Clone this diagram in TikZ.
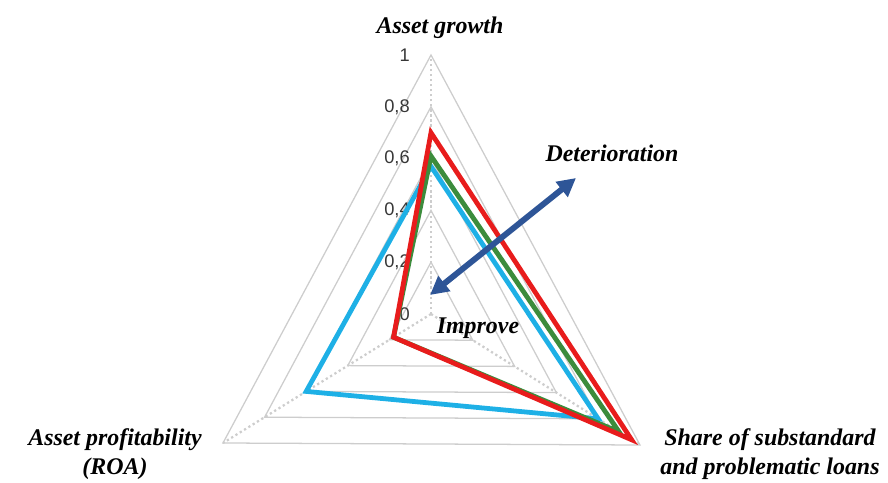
\documentclass[tikz,border=0pt]{standalone}
\usepackage{fontspec}
\setmainfont{Liberation Serif}
\setsansfont{Liberation Sans}
\usetikzlibrary{calc,arrows.meta}

\definecolor{gridgray}{RGB}{205,205,205}
\definecolor{tickgray}{RGB}{55,55,55}
\definecolor{seriesblue}{RGB}{30,176,230}
\definecolor{seriesgreen}{RGB}{60,140,60}
\definecolor{seriesred}{RGB}{232,28,28}
\definecolor{trendblue}{RGB}{46,85,151}

\tikzset{
    axislabel/.style={font=\fontsize{17}{21}\selectfont\bfseries\itshape, align=center, inner sep=0pt},
    ticklabel/.style={font=\sffamily\fontsize{13}{15}\selectfont, text=tickgray, anchor=east, inner sep=0pt},
    ring/.style={draw=gridgray, line width=0.9pt},
    spoke/.style={draw=gridgray, line width=1.6pt, dotted},
    series/.style={line width=3.4pt, line join=miter},
}

\begin{document}
\begin{tikzpicture}[x=0.025cm, y=0.025cm]
        \useasboundingbox (-431,-168) rectangle (457,314);

        \coordinate (O) at (0,0);
        \coordinate (top) at (0,259);
        \coordinate (left) at (-208,-129);
        \coordinate (right) at (209,-131);

        % grid
        \foreach \r in {0.2,0.4,0.6,0.8,1} {
            \draw[ring] ($(O)!\r!(top)$) -- ($(O)!\r!(left)$) -- ($(O)!\r!(right)$) -- cycle;
        }
        \foreach \v in {top,left,right} {
            \draw[spoke] (O) -- (\v);
        }

        \foreach \r/\t [count=\i] in {0/0, 0.2/{0,2}, 0.4/{0,4}, 0.6/{0,6}, 0.8/{0,8}, 1/1} {
            \node[ticklabel] (tick\i) at ($(O)!\r!(top) + (-21,0)$) {\t};
        }

        % series
        \draw[series, seriesblue] ($(O)!0.57!(top)$) -- ($(O)!0.6!(left)$) -- ($(O)!0.8!(right)$) -- cycle;
        \draw[series, seriesgreen] ($(O)!0.61!(top)$) -- ($(O)!0.18!(left)$) -- ($(O)!0.9!(right)$) -- cycle;
        \draw[series, seriesred] ($(O)!0.7!(top)$) -- ($(O)!0.18!(left)$) -- ($(O)!0.96!(right)$) -- cycle;

        % trend arrow
        \coordinate (better) at (-1,19);
        \coordinate (worse) at (145,136);
        \draw[trendblue, line width=4.2pt, {Triangle[length=0.46cm,width=0.46cm]}-{Triangle[length=0.46cm,width=0.46cm]}] (better) -- (worse);

        \node[axislabel] (growth) at (9,286) {Asset growth};
        \node[axislabel] (deterioration) at (181,161) {Deterioration};
        \node[axislabel] (improve) at (47,-14) {Improve};
        \node[axislabel] (roa) at (-316,-140) {Asset profitability\\(ROA)};
        \node[axislabel] (loans) at (339,-140) {Share of substandard\\and problematic loans};
\end{tikzpicture}
\end{document}
